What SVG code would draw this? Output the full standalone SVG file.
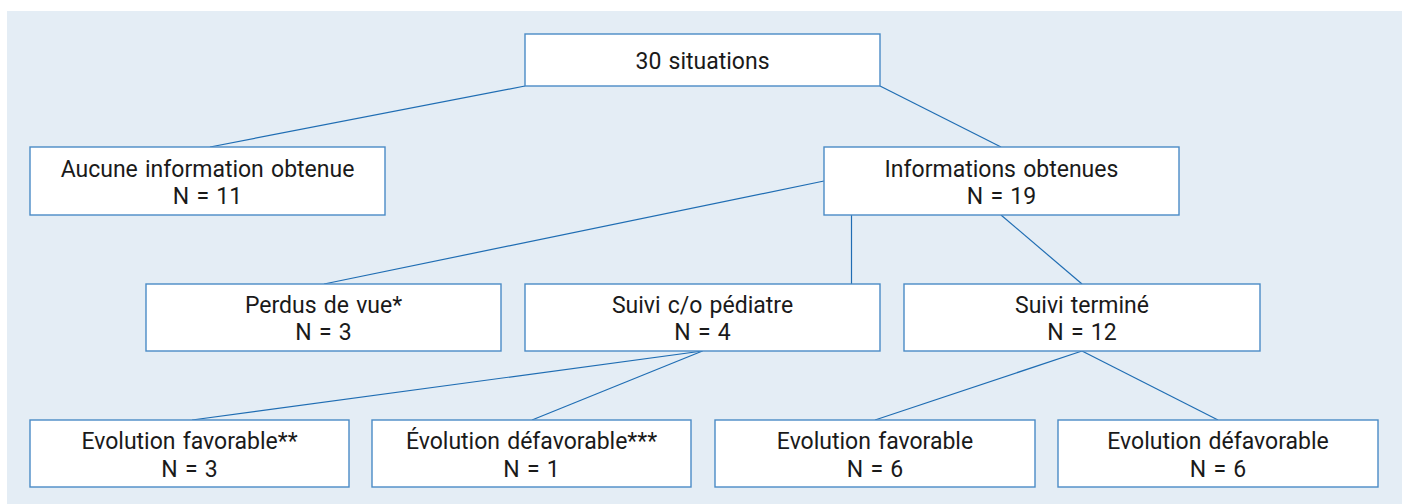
<svg xmlns="http://www.w3.org/2000/svg" width="1402" height="504" viewBox="0 0 1402 504">
<style>
.bg{fill:#ffffff}
.panel{fill:#e4edf5}
.box{fill:#ffffff;stroke:#4a8bc6;stroke-width:1.4}
.ln{stroke:#1f6db3;stroke-width:1.2;fill:none}
text{font-family:Roboto,"Liberation Sans",sans-serif;font-size:23px;fill:#1a1a1a;text-anchor:middle;word-spacing:1.5px}
</style>
<rect class="bg" x="0" y="0" width="1402" height="504"/>
<rect class="panel" x="7" y="11" width="1395" height="493"/>
<g id="connectors">
<line class="ln" x1="525" y1="86" x2="210" y2="147"/>
<line class="ln" x1="880" y1="86" x2="1001" y2="147"/>
<line class="ln" x1="824" y1="181" x2="324" y2="284"/>
<line class="ln" x1="851.5" y1="215" x2="851.5" y2="284"/>
<line class="ln" x1="1001" y1="215" x2="1082" y2="284"/>
<line class="ln" x1="702.5" y1="351" x2="192" y2="420"/>
<line class="ln" x1="702.5" y1="351" x2="532" y2="420"/>
<line class="ln" x1="1082" y1="351" x2="875" y2="420"/>
<line class="ln" x1="1082" y1="351" x2="1218" y2="420"/>
</g>
<g id="root">
<rect class="box" x="525" y="34" width="355" height="52"/>
<text x="702.5" y="69">30 situations</text>
</g>
<g id="aucune">
<rect class="box" x="30" y="147" width="355" height="68"/>
<text x="207.5" y="177">Aucune information obtenue</text>
<text x="207.5" y="204">N = 11</text>
</g>
<g id="informations">
<rect class="box" x="824" y="147" width="355" height="68"/>
<text x="1001.5" y="177">Informations obtenues</text>
<text x="1001.5" y="204">N = 19</text>
</g>
<g id="perdus">
<rect class="box" x="146" y="284" width="355" height="67"/>
<text x="323.5" y="313">Perdus de vue*</text>
<text x="323.5" y="340">N = 3</text>
</g>
<g id="suivi-pediatre">
<rect class="box" x="525" y="284" width="355" height="67"/>
<text x="702.5" y="313">Suivi c/o pédiatre</text>
<text x="702.5" y="340">N = 4</text>
</g>
<g id="suivi-termine">
<rect class="box" x="904" y="284" width="356" height="67"/>
<text x="1082" y="313">Suivi terminé</text>
<text x="1082" y="340">N = 12</text>
</g>
<g id="evo-fav-2">
<rect class="box" x="30" y="420" width="319" height="67"/>
<text x="189.5" y="449">Evolution favorable**</text>
<text x="189.5" y="477">N = 3</text>
</g>
<g id="evo-defav-3">
<rect class="box" x="372" y="420" width="319" height="67"/>
<text x="531.5" y="449">Évolution défavorable***</text>
<text x="531.5" y="477">N = 1</text>
</g>
<g id="evo-fav">
<rect class="box" x="715" y="420" width="320" height="67"/>
<text x="875" y="449">Evolution favorable</text>
<text x="875" y="477">N = 6</text>
</g>
<g id="evo-defav">
<rect class="box" x="1058" y="420" width="320" height="67"/>
<text x="1218" y="449">Evolution défavorable</text>
<text x="1218" y="477">N = 6</text>
</g>
</svg>
